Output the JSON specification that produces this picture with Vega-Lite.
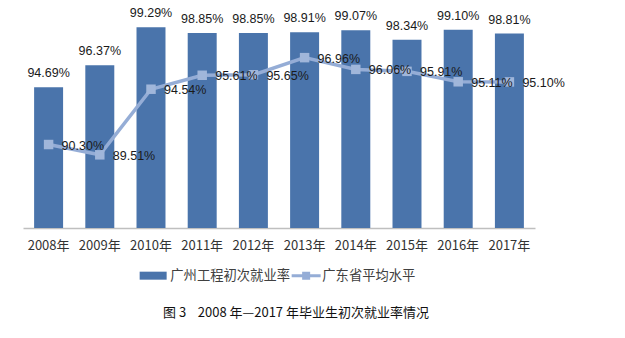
{
  "$schema": "https://vega.github.io/schema/vega-lite/v6.json",
  "width": 512,
  "height": 210,
  "autosize": {"type": "none"},
  "padding": {"left": 23, "top": 18, "right": 90, "bottom": 110},
  "background": "#ffffff",
  "config": {"view": {"stroke": null}},
  "title": {
    "text": "图 3\u00a0\u00a0\u00a0\u00a02008 年—2017 年毕业生初次就业率情况",
    "orient": "bottom",
    "anchor": "middle",
    "dx": 17,
    "offset": 25,
    "font": "Noto Sans CJK SC",
    "fontSize": 13,
    "fontWeight": "normal",
    "color": "#111111"
  },
  "data": {
    "values": [
      {"year": "2008年", "gz": 94.69, "gd": 90.30},
      {"year": "2009年", "gz": 96.37, "gd": 89.51},
      {"year": "2010年", "gz": 99.29, "gd": 94.54},
      {"year": "2011年", "gz": 98.85, "gd": 95.61},
      {"year": "2012年", "gz": 98.85, "gd": 95.65},
      {"year": "2013年", "gz": 98.91, "gd": 96.96},
      {"year": "2014年", "gz": 99.07, "gd": 96.06},
      {"year": "2015年", "gz": 98.34, "gd": 95.91},
      {"year": "2016年", "gz": 99.10, "gd": 95.11},
      {"year": "2017年", "gz": 98.81, "gd": 95.10}
    ]
  },
  "encoding": {
    "x": {
      "field": "year",
      "type": "nominal",
      "sort": null,
      "scale": {"paddingInner": 0.434, "paddingOuter": 0.217},
      "axis": {
        "title": null,
        "labelAngle": 0,
        "ticks": false,
        "domainColor": "#BFBFBF",
        "domainWidth": 1.5,
        "labelFont": "Noto Sans CJK SC",
        "labelFontSize": 13,
        "labelColor": "#333333",
        "labelPadding": 11
      }
    }
  },
  "layer": [
    {
      "mark": {"type": "bar", "color": "#4A74AB", "clip": true},
      "encoding": {
        "y": {"field": "gz", "type": "quantitative", "scale": {"domain": [83.9, 100], "zero": false, "nice": false}, "axis": null}
      }
    },
    {
      "transform": [{"calculate": "format(datum.gz, '.2f') + '%'", "as": "gzLabel"}],
      "mark": {"type": "text", "font": "Liberation Sans", "fontSize": 12.5, "color": "#1a1a1a", "baseline": "alphabetic", "dy": -10},
      "encoding": {
        "y": {"field": "gz", "type": "quantitative"},
        "text": {"field": "gzLabel"}
      }
    },
    {
      "mark": {"type": "line", "color": "#95ADD6", "strokeWidth": 3.5},
      "encoding": {
        "y": {"field": "gd", "type": "quantitative"}
      }
    },
    {
      "mark": {"type": "point", "shape": "square", "filled": true, "size": 90, "color": "#A0B6DA", "opacity": 1},
      "encoding": {
        "y": {"field": "gd", "type": "quantitative"}
      }
    },
    {
      "transform": [{"calculate": "format(datum.gd, '.2f') + '%'", "as": "gdLabel"}],
      "mark": {"type": "text", "font": "Liberation Sans", "fontSize": 12.5, "color": "#1a1a1a", "align": "left", "baseline": "middle", "dx": 13, "dy": 1},
      "encoding": {
        "y": {"field": "gd", "type": "quantitative"},
        "text": {"field": "gdLabel"}
      }
    },
    {
      "data": {"values": [{"series": "广州工程初次就业率"}, {"series": "广东省平均水平"}]},
      "transform": [{"filter": "datum.series == 'none'"}],
      "mark": {"type": "point", "filled": true, "opacity": 1},
      "encoding": {
        "x": {"value": 0},
        "color": {
          "field": "series",
          "type": "nominal",
          "scale": {"domain": ["广州工程初次就业率", "广东省平均水平"], "range": ["#4A74AB", "#95ADD6"]},
          "legend": {
            "orient": "none",
            "legendX": 115,
            "legendY": 251,
            "direction": "horizontal",
            "title": null,
            "labelFont": "Noto Sans CJK SC",
            "labelFontSize": 13.3,
            "labelColor": "#404040",
            "symbolSize": 100,
            "symbolStrokeWidth": 0,
            "symbolOpacity": 1,
            "labelOffset": 19,
            "columnPadding": 0
          }
        },
        "shape": {
          "field": "series",
          "type": "nominal",
          "scale": {"domain": ["广州工程初次就业率", "广东省平均水平"], "range": ["M-1,-0.8H4.4V0.8H-1Z", "M-1,-0.3H4.8V0.3H-1Z M1.1,-0.8H2.7V0.8H1.1Z"]}
        }
      }
    }
  ]
}
